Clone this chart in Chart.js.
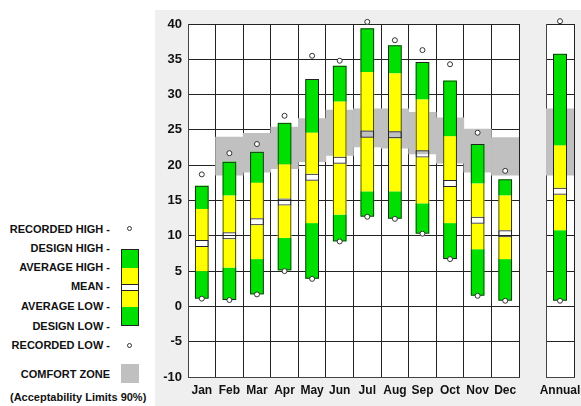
<!DOCTYPE html>
<html>
<head>
<meta charset="utf-8">
<script src="https://cdn.jsdelivr.net/npm/chart.js@4"></script>
<style>
  body { margin: 0; background: #fff; width: 581px; height: 406px; overflow: hidden; position: relative;
         font-family: "Liberation Sans", Arial, sans-serif; }
  #panel { position: absolute; left: 155px; top: 10px; width: 426px; height: 396px; background: #efefef; }
  #mainChart { position: absolute; left: 155px; top: 10px; }
  #annualChart { position: absolute; left: 525px; top: 10px; }
  .lg { position: absolute; right: 471px; font-weight: bold; font-size: 11px; line-height: 12px; color: #111; white-space: nowrap; }
  .box { position: absolute; left: 121px; width: 18px; }
  .dot { position: absolute; width: 3px; height: 3px; border: 1px solid #333; border-radius: 50%; background: #fff; }
</style>
</head>
<body>
<div id="panel"></div>
<canvas id="mainChart" width="370" height="396"></canvas>
<canvas id="annualChart" width="56" height="396"></canvas>

<div class="lg" style="top:223px">RECORDED HIGH -</div>
<div class="lg" style="top:242px">DESIGN HIGH -</div>
<div class="lg" style="top:261px">AVERAGE HIGH -</div>
<div class="lg" style="top:280px">MEAN -</div>
<div class="lg" style="top:300px">AVERAGE LOW -</div>
<div class="lg" style="top:320px">DESIGN LOW -</div>
<div class="lg" style="top:339px">RECORDED LOW -</div>
<div class="lg" style="top:368px">COMFORT ZONE</div>
<div class="lg" style="top:391px; right:auto; left:10px">(Acceptability Limits 90%)</div>

<div class="dot" style="left:127px; top:226px"></div>
<div class="box" style="top:249px; height:77px; border:1px solid #222; box-sizing:border-box; background:#00e000"></div>
<div class="box" style="top:268px; height:16px; background:#ffff00; left:122px; width:16px"></div>
<div class="box" style="top:284px; height:7px; background:#fff; left:122px; width:16px; border-top:1px solid #222; border-bottom:1px solid #222; box-sizing:border-box"></div>
<div class="box" style="top:291px; height:16px; background:#ffff00; left:122px; width:16px"></div>
<div class="dot" style="left:127px; top:343px"></div>
<div class="box" style="top:364px; height:19px; background:#c0c0c0"></div>

<script>
const months = ['Jan', 'Feb', 'Mar', 'Apr', 'May', 'Jun', 'Jul', 'Aug', 'Sep', 'Oct', 'Nov', 'Dec'];
const recordedHigh = [18.7, 21.7, 23.0, 27.0, 35.5, 34.8, 40.3, 37.7, 36.3, 34.3, 24.6, 19.2];
const designHigh   = [17.1, 20.5, 21.9, 26.0, 32.2, 34.1, 39.4, 37.0, 34.6, 32.0, 23.0, 18.0];
const averageHigh  = [13.8, 15.7, 17.5, 20.1, 24.6, 29.0, 33.2, 33.0, 29.3, 24.1, 17.4, 15.7];
const meanTemp     = [8.9, 10.0, 12.0, 14.8, 18.3, 20.7, 24.4, 24.3, 21.6, 17.4, 12.2, 10.3];
const averageLow   = [5.0, 5.5, 6.7, 9.7, 11.8, 13.0, 16.3, 16.3, 14.6, 11.8, 8.1, 6.7];
const designLow    = [1.1, 0.9, 1.7, 5.1, 3.9, 9.2, 12.7, 12.4, 10.3, 6.7, 1.5, 0.8];
const recordedLow  = [1.1, 0.9, 1.7, 5.0, 3.9, 9.2, 12.7, 12.4, 10.3, 6.7, 1.5, 0.8];
const comfortLow   = [null, 18.6, 19.0, 19.5, 20.5, 21.4, 22.6, 22.4, 21.6, 20.3, 19.0, 18.6];
const comfortHigh  = [null, 24.0, 24.5, 25.4, 26.6, 27.8, 28.0, 28.0, 27.5, 26.7, 25.1, 23.9];

const annualLabel = ['Annual'];
const annualRecordedHigh = [40.4];
const annualDesignHigh = [35.8];
const annualAverageHigh = [22.8];
const annualMean = [16.3];
const annualAverageLow = [10.8];
const annualDesignLow = [0.8];
const annualRecordedLow = [0.8];
const annualComfortLow = [18.6];
const annualComfortHigh = [28.0];

const yTicks = { min: -10, max: 40, step: 5 };
const meanHalf = 0.5; // half height of the mean gap

const GREEN = '#00e000', YELLOW = '#ffff00', GRAY = '#c0c0c0', LINE = '#222';
const FONT = '"Liberation Sans", Arial, sans-serif';

// white plot area on the grey panel
const plotBg = {
    id: 'plotBg',
    beforeDraw(chart) {
        const a = chart.chartArea, c = chart.ctx;
        c.save();
        c.fillStyle = '#fff';
        c.fillRect(a.left, a.top, a.right - a.left, a.bottom - a.top);
        c.restore();
    }
};

function range(lo, hi) {
    return lo.map((v, i) => (v == null || hi[i] == null) ? null : [v, hi[i]]);
}

function buildDatasets(d) {
    const meanLo = d.mean.map(v => v - meanHalf);
    const meanHi = d.mean.map(v => v + meanHalf);
    const points = (data) => ({
        type: 'line', data: data, showLine: false, clip: false,
        pointRadius: 2.5, pointBackgroundColor: '#fff', pointBorderColor: '#333', pointBorderWidth: 1
    });
    const bar = (data, bg, border) => ({
        data: data, backgroundColor: bg, borderColor: border || 'rgba(0,0,0,0)',
        borderWidth: border ? 1 : 0, borderSkipped: false, barPercentage: 0.5, categoryPercentage: 1
    });
    return [
        points(d.recHigh),
        points(d.recLow),
        bar(range(d.desLow, d.desHigh), 'rgba(0,0,0,0)', LINE),
        bar(range(meanLo, meanHi), 'rgba(0,0,0,0)', LINE),
        bar(range(meanHi, d.avgHigh), YELLOW),
        bar(range(d.avgLow, meanLo), YELLOW),
        bar(range(d.avgHigh, d.desHigh), GREEN),
        bar(range(d.desLow, d.avgLow), GREEN),
        { data: range(d.czLow, d.czHigh), backgroundColor: GRAY, borderWidth: 0, barPercentage: 1, categoryPercentage: 1 }
    ];
}

function makeChart(id, labels, d, yWidth, showYLabels, padRight) {
    return new Chart(document.getElementById(id), {
        type: 'bar',
        data: { labels: labels, datasets: buildDatasets(d) },
        options: {
            responsive: false,
            animation: false,
            devicePixelRatio: 1,
            datasets: { bar: { grouped: false } },
            layout: { padding: { top: 14, right: padRight, left: 0, bottom: 0 } },
            plugins: { legend: { display: false }, tooltip: { enabled: false } },
            scales: {
                x: {
                    grid: { color: LINE, drawTicks: false, offset: true },
                    border: { color: '#444' },
                    ticks: { autoSkip: false, maxRotation: 0, padding: 6, color: '#111',
                             font: { family: FONT, size: 12, weight: 'bold' } },
                    afterFit: s => { s.height = 29; s.paddingLeft = 0; s.paddingRight = 0; }
                },
                y: {
                    min: yTicks.min, max: yTicks.max,
                    grid: { color: LINE, drawTicks: false },
                    border: { color: '#444' },
                    ticks: { stepSize: yTicks.step, padding: 6, display: showYLabels, color: '#111',
                             font: { family: FONT, size: 13, weight: 'bold' } },
                    afterFit: s => { s.width = yWidth; s.paddingTop = 0; s.paddingBottom = 0; }
                }
            }
        },
        plugins: [plotBg]
    });
}

makeChart('mainChart', months, {
    recHigh: recordedHigh, desHigh: designHigh, avgHigh: averageHigh, mean: meanTemp,
    avgLow: averageLow, desLow: designLow, recLow: recordedLow, czLow: comfortLow, czHigh: comfortHigh
}, 33, true, 6);

makeChart('annualChart', annualLabel, {
    recHigh: annualRecordedHigh, desHigh: annualDesignHigh, avgHigh: annualAverageHigh, mean: annualMean,
    avgLow: annualAverageLow, desLow: annualDesignLow, recLow: annualRecordedLow,
    czLow: annualComfortLow, czHigh: annualComfortHigh
}, 21, false, 7);
</script>
</body>
</html>
